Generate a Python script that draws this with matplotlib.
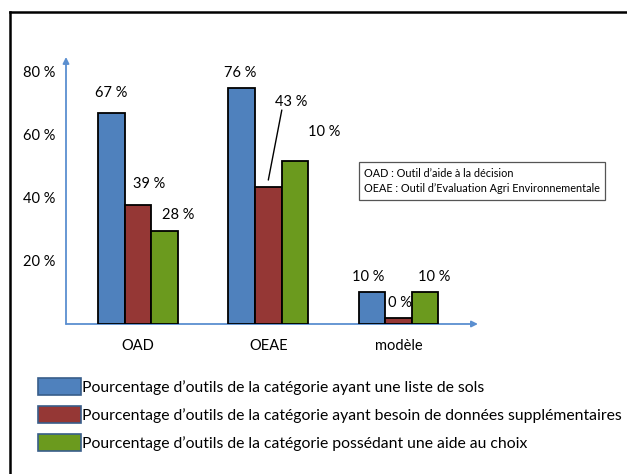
import matplotlib.pyplot as plt
import numpy as np
from matplotlib.lines import Line2D
from matplotlib.patches import Patch

# Data
categories = ['OAD', 'OEAE', 'modèle']
liste_sols = [67.0, 75.0, 10.2]
donnees_sup = [37.8, 43.5, 1.9]
aide_choix = [29.5, 51.7, 10.2]

# Labels as printed in the original (they do not always match the bars)
labels_sols = ['67 %', '76 %', '10 %']
labels_sup = ['39 %', '43 %', '0 %']
labels_aide = ['28 %', '10 %', '10 %']

yticks = [20, 40, 60, 80]
series_names = [
    "Pourcentage d\u2019outils de la catégorie ayant une liste de sols",
    "Pourcentage d\u2019outils de la catégorie ayant besoin de données supplémentaires",
    "Pourcentage d\u2019outils de la catégorie possédant une aide au choix",
]
note_lines = [
    "OAD : Outil d\u2019aide à la décision",
    "OEAE : Outil d\u2019Evaluation Agri Environnementale",
]

colors = ['#4f81bd', '#953735', '#6b9a1e']
axis_blue = '#5b8fd0'

plt.rcParams['font.family'] = ['Lato', 'DejaVu Sans']

W, H = 627, 474
fig = plt.figure(figsize=(W / 100, H / 100), dpi=100)


def fx(px):
    return px / W


def fy(py):
    return 1 - py / H


# plot area in pixels: x 66..480, y 57..324
ax = fig.add_axes([fx(66), fy(324), fx(480 - 66), (324 - 57) / H])
ax.set_xlim(-0.553, 2.625)
ax.set_ylim(0, 84.76)
for s in ax.spines.values():
    s.set_visible(False)

x = np.arange(len(categories))
w = 0.204
series = [liste_sols, donnees_sup, aide_choix]
bars = []
for i, (vals, c) in enumerate(zip(series, colors)):
    b = ax.bar(x + (i - 1) * w, vals, w, color=c, edgecolor='black',
               linewidth=1.3, zorder=3)
    bars.append(b)

# axis arrows
ax.annotate('', xy=(0, 1), xytext=(0, 0), xycoords='axes fraction',
            arrowprops=dict(arrowstyle='-|>', color=axis_blue, lw=1.3,
                            mutation_scale=9, shrinkA=0, shrinkB=0),
            zorder=1)
ax.annotate('', xy=(0.995, 0), xytext=(0, 0), xycoords='axes fraction',
            arrowprops=dict(arrowstyle='-|>', color=axis_blue, lw=1.3,
                            mutation_scale=9, shrinkA=0, shrinkB=0),
            zorder=1)

ax.set_yticks(yticks)
ax.set_yticklabels([f'{v} %' for v in yticks])
ax.set_xticks(x)
ax.set_xticklabels(categories)
ax.tick_params(axis='y', length=0, pad=8, labelsize=10.5)
ax.tick_params(axis='x', length=0, pad=11, labelsize=10.5)

# value labels, offsets in pixels from the bar top centre
offsets = [
    [(0, 20), (-1.5, 15), (-4, 15)],
    [(11.5, 21), (22.5, 85), (1.5, 15)],
    [(13.5, 16), (29.5, 29), (9.5, 15)],
]
all_labels = [labels_sols, labels_sup, labels_aide]
for b, labs, offs in zip(bars, all_labels, offsets):
    for rect, lab, (dx, dy) in zip(b, labs, offs):
        cx = rect.get_x() + rect.get_width() / 2
        top = rect.get_height()
        ax.annotate(lab, xy=(cx, top), xytext=(dx, dy),
                    textcoords='offset pixels', ha='center', va='center',
                    fontsize=10.5, annotation_clip=False)

# leader line for the 43 % label
r = bars[1][1]
ax.annotate('', xy=(r.get_x() + r.get_width() / 2, r.get_height() + 2.2),
            xytext=(13.5, 70), textcoords='offset pixels',
            arrowprops=dict(arrowstyle='-', color='black', lw=1.0,
                            shrinkA=0, shrinkB=0))

# note box
fig.text(fx(364), fy(181), '\n'.join(note_lines), fontsize=7.8,
         va='center', ha='left', linespacing=1.55,
         bbox=dict(boxstyle='square,pad=0.5', facecolor='white',
                   edgecolor='#555555', linewidth=0.9))

# legend
handles = [Patch(facecolor=c, edgecolor='#385d8a', linewidth=1.2)
           for c in colors]
fig.legend(handles, series_names, loc='upper left',
           bbox_to_anchor=(fx(38), fy(378)), frameon=False,
           fontsize=11.35, handlelength=2.7, handleheight=1.25,
           handletextpad=0.1, labelspacing=0.72, borderpad=0,
           borderaxespad=0)

# outer frame (left and top edges visible)
fig.add_artist(Line2D([fx(10), fx(10)], [0, fy(12)], color='black',
                      lw=1.8, transform=fig.transFigure))
fig.add_artist(Line2D([fx(10), 1], [fy(12), fy(12)], color='black',
                      lw=1.8, transform=fig.transFigure))

fig.savefig('out.png', dpi=100)
